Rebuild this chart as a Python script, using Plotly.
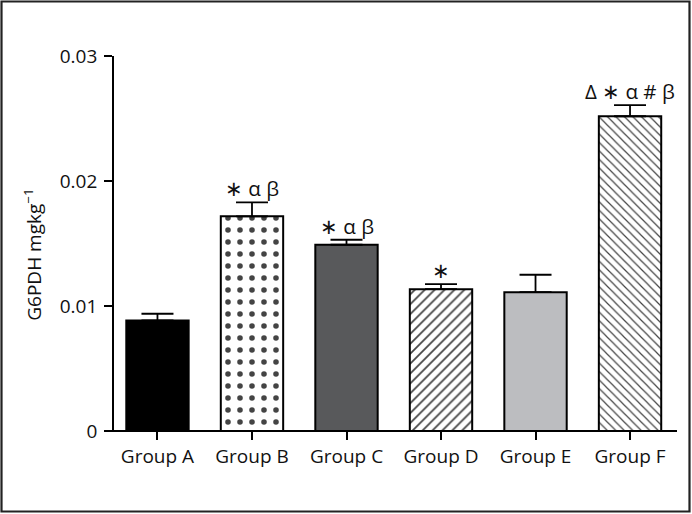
import plotly.graph_objects as go

# ---- data ----
categories = ["Group A", "Group B", "Group C", "Group D", "Group E", "Group F"]
g6pdh_mean = [0.00884, 0.01717, 0.01490, 0.01135, 0.01111, 0.02518]
g6pdh_sem = [0.00054, 0.00112, 0.00040, 0.00040, 0.00139, 0.00089]
sig_labels = ["", "∗ α β", "∗ α β", "∗", "", "Δ ∗ α # β"]
y_tick_vals = [0, 0.01, 0.02, 0.03]
y_tick_text = ["0", "0.01", "0.02", "0.03"]

# ---- styles ----
bar_colors = ["#000000", "#ffffff", "#58595b", "#ffffff", "#bcbdc0", "#ffffff"]
pattern_shapes = ["", ".", "", "/", "", "\\"]
pattern_fg = ["#000000", "#000000", "#000000", "#111111", "#000000", "#555555"]
pattern_size = [8, 12, 8, 7, 8, 6]
pattern_solid = [0.2, 0.17, 0.2, 0.25, 0.2, 0.2]

FONT = "Open Sans"
FS = 19
W, H = 692, 514
ML, MR, MT, MB = 114, 15, 56, 83
PW, PH = W - ML - MR, H - MT - MB


def px_x(px):
    return (px - ML) / PW


def px_y(py):
    return (H - MB - py) / PH


fig = go.Figure()
fig.add_trace(go.Bar(
    x=categories,
    y=g6pdh_mean,
    width=0.66,
    marker=dict(
        color=bar_colors,
        line=dict(color="#000000", width=2),
        pattern=dict(shape=pattern_shapes, fgcolor=pattern_fg, fgopacity=1,
                     size=pattern_size, solidity=pattern_solid),
    ),
    error_y=dict(type="data", array=g6pdh_sem,
                 arrayminus=[0] * len(g6pdh_sem), symmetric=False,
                 color="#000000", thickness=1.8, width=16),
    showlegend=False,
))

for cat, m, s, lab in zip(categories, g6pdh_mean, g6pdh_sem, sig_labels):
    if lab:
        fig.add_annotation(x=cat, y=m + s, text=lab, showarrow=False,
                           yanchor="middle", yshift=14,
                           font=dict(family=FONT, size=20.5, color="#111111"))

# y-axis title
fig.add_annotation(xref="paper", yref="paper", x=px_x(33), y=0.47,
                   text="G6PDH mgkg<sup>−1</sup>", textangle=-90,
                   showarrow=False, xanchor="center", yanchor="middle",
                   font=dict(family=FONT, size=FS, color="#111111"))

# x-axis line (extends slightly left of the y axis)
fig.add_shape(type="line", xref="paper", yref="paper",
              x0=px_x(107), x1=1, y0=0, y1=0,
              line=dict(color="#000000", width=1.8))
# outer frame
fig.add_shape(type="rect", xref="paper", yref="paper",
              x0=px_x(1.5), x1=px_x(689.5), y0=px_y(511.5), y1=px_y(1.5),
              line=dict(color="#222222", width=2.2))

fig.update_layout(
    width=W, height=H,
    margin=dict(l=ML, r=MR, t=MT, b=MB),
    paper_bgcolor="#ffffff", plot_bgcolor="#ffffff",
    font=dict(family=FONT, size=FS, color="#111111"),
)
fig.update_xaxes(range=[-0.46, 5.497], showline=False, showgrid=False,
                 zeroline=False, ticks="outside", ticklen=8, tickwidth=1.5,
                 tickcolor="#000000",
                 tickfont=dict(family=FONT, size=FS, color="#111111"))
fig.update_yaxes(range=[0, 0.03], tickvals=y_tick_vals, ticktext=y_tick_text,
                 showline=True, linecolor="#000000", linewidth=1.8,
                 showgrid=False, zeroline=False, ticks="outside", ticklen=8,
                 tickwidth=1.5, tickcolor="#000000", ticklabelstandoff=3,
                 tickfont=dict(family=FONT, size=FS, color="#111111"))

fig.write_html("out.html", config={"displayModeBar": False},
               post_script="document.body.style.margin='0px';"
                           "document.body.style.overflow='hidden';")
